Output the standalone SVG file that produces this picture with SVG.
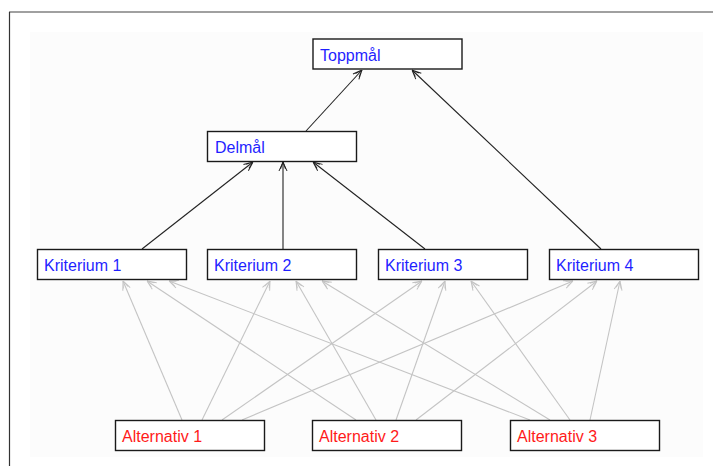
<svg xmlns="http://www.w3.org/2000/svg" width="713" height="466" viewBox="0 0 713 466">
<defs>
<style>
.box{fill:#ffffff;stroke:#1a1a1a;stroke-width:1.4}
.crit{font-family:"Liberation Sans",Arial,sans-serif;font-size:16px;fill:#1f1fff}
.alt{font-family:"Liberation Sans",Arial,sans-serif;font-size:16px;fill:#ff1a1a}
.blk{stroke:#222;stroke-width:1.1;fill:none;marker-end:url(#ab)}
.gry{stroke:#c4c4c4;stroke-width:1.1;fill:none;marker-end:url(#ag)}
</style>
<marker id="ab" viewBox="0 0 10 10" refX="10" refY="5" markerWidth="10" markerHeight="10" markerUnits="userSpaceOnUse" orient="auto">
<path d="M1,1 L10,5 L1,9 M3,2.5 L10,5 L3,7.5" fill="none" stroke="#222" stroke-width="1"/>
</marker>
<marker id="ag" viewBox="0 0 10 10" refX="10" refY="5" markerWidth="10" markerHeight="10" markerUnits="userSpaceOnUse" orient="auto">
<path d="M1,1 L10,5 L1,9 M3,2.5 L10,5 L3,7.5" fill="none" stroke="#c4c4c4" stroke-width="1"/>
</marker>
</defs>
<rect x="0" y="0" width="713" height="466" fill="#ffffff"/>
<rect x="30" y="32" width="673" height="425" fill="#fcfcfc"/>
<line x1="9" y1="12" x2="713" y2="12" stroke="#808080" stroke-width="1.5"/>
<line x1="9.5" y1="12" x2="9.5" y2="466" stroke="#333" stroke-width="1.2"/>

<g id="connectors">
<line class="gry" x1="182" y1="420" x2="123" y2="281"/>
<line class="gry" x1="202" y1="420" x2="270" y2="281"/>
<line class="gry" x1="222" y1="420" x2="422" y2="281"/>
<line class="gry" x1="242" y1="420" x2="573" y2="281"/>
<line class="gry" x1="356" y1="420" x2="147" y2="281"/>
<line class="gry" x1="376" y1="420" x2="296" y2="281"/>
<line class="gry" x1="396" y1="420" x2="445" y2="281"/>
<line class="gry" x1="416" y1="420" x2="597" y2="281"/>
<line class="gry" x1="530" y1="420" x2="169" y2="281"/>
<line class="gry" x1="550" y1="420" x2="322" y2="281"/>
<line class="gry" x1="570" y1="420" x2="471" y2="281"/>
<line class="gry" x1="590" y1="420" x2="620" y2="281"/>
<line class="blk" x1="306" y1="131" x2="362" y2="70"/>
<line class="blk" x1="601" y1="249" x2="412" y2="70"/>
<line class="blk" x1="142" y1="249" x2="253" y2="162"/>
<line class="blk" x1="283" y1="249" x2="283" y2="162"/>
<line class="blk" x1="425" y1="249" x2="313" y2="162"/>
</g>

<g id="toppmal"><rect class="box" x="313" y="39" width="149" height="30"/><text class="crit" x="320" y="61">Toppmål</text></g>
<g id="delmal"><rect class="box" x="207.5" y="131.5" width="149" height="30"/><text class="crit" x="215" y="153">Delmål</text></g>
<g id="kriterium1"><rect class="box" x="37.5" y="249.5" width="149" height="30"/><text class="crit" x="44" y="271">Kriterium 1</text></g>
<g id="kriterium2"><rect class="box" x="207.5" y="249.5" width="149" height="30"/><text class="crit" x="214" y="271">Kriterium 2</text></g>
<g id="kriterium3"><rect class="box" x="378.5" y="249.5" width="149" height="30"/><text class="crit" x="385" y="271">Kriterium 3</text></g>
<g id="kriterium4"><rect class="box" x="549.5" y="249.5" width="149" height="30"/><text class="crit" x="556" y="271">Kriterium 4</text></g>
<g id="alternativ1"><rect class="box" x="115.5" y="420.5" width="149" height="30"/><text class="alt" x="122" y="442">Alternativ 1</text></g>
<g id="alternativ2"><rect class="box" x="312.5" y="420.5" width="149" height="30"/><text class="alt" x="319" y="442">Alternativ 2</text></g>
<g id="alternativ3"><rect class="box" x="510.5" y="420.5" width="149" height="30"/><text class="alt" x="517" y="442">Alternativ 3</text></g>
</svg>
